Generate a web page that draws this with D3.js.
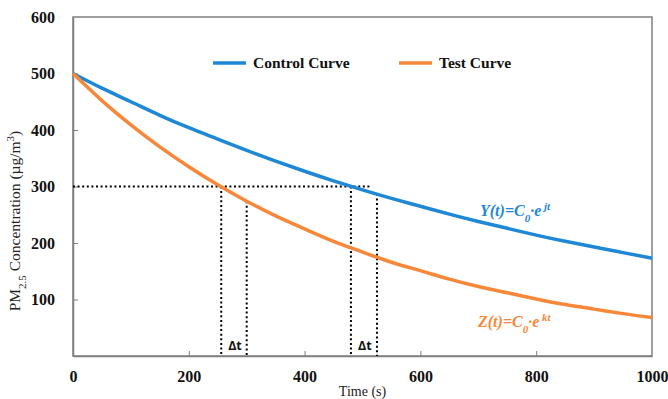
<!DOCTYPE html>
<html>
<head>
<meta charset="utf-8">
<script src="https://cdn.jsdelivr.net/npm/d3@7"></script>
<style>
  html, body { margin: 0; padding: 0; background: #fff; }
  svg { display: block; }
</style>
</head>
<body>
<svg id="chart" width="668" height="399"></svg>
<script>
// Sampled decay curves (time in s, concentration in µg/m³)
const times = [0, 50, 100, 150, 200, 250, 300, 350, 400, 450, 500,
               550, 600, 650, 700, 750, 800, 850, 900, 950, 1000];
const controlValues = [500, 474, 450, 426, 404, 384, 364, 345, 327, 310, 294,
                       279, 265, 251, 238, 226, 214, 203, 193, 183, 173];
const testValues = [500, 452, 409, 370, 335, 303, 274, 248, 225, 203, 184,
                    166, 151, 136, 123, 112, 101, 91, 83, 75, 68];

const xTicks = [0, 200, 400, 600, 800, 1000];
const yTicks = [100, 200, 300, 400, 500, 600];

// Threshold level and the Δt markers (time at which each curve is read)
const threshold = 300;
const thresholdEnd = 515;
const testMarks = [{ t: 256, v: 300 }, { t: 300, v: 274 }];
const controlMarks = [{ t: 480, v: 300 }, { t: 525, v: 287 }];

const svg = d3.select("#chart");
const margin = { left: 73, right: 16, top: 17, bottom: 43 };
const W = 668, H = 399;

const x = d3.scaleLinear().domain([0, 1000]).range([margin.left, W - margin.right]);
const y = d3.scaleLinear().domain([0, 600]).range([H - margin.bottom, margin.top]);

const blue = "#1f88d6";
const orange = "#f7883a";
const axisGray = "#7f7f7f";
const serif = "'Liberation Serif', 'Times New Roman', serif";

// Frame
svg.append("rect")
  .attr("x", x(0)).attr("y", y(600))
  .attr("width", x(1000) - x(0)).attr("height", y(0) - y(600))
  .attr("fill", "none").attr("stroke", axisGray).attr("stroke-width", 1.5);

// Axes with inward ticks
const xAxis = svg.append("g")
  .attr("transform", `translate(0,${y(0)})`)
  .call(d3.axisBottom(x).tickValues(xTicks).tickFormat(d3.format("d"))
    .tickSizeInner(-5).tickSizeOuter(0).tickPadding(15));
const yAxis = svg.append("g")
  .attr("transform", `translate(${x(0)},0)`)
  .call(d3.axisLeft(y).tickValues(yTicks).tickFormat(d3.format("d"))
    .tickSizeInner(-5).tickSizeOuter(0).tickPadding(18));

[xAxis, yAxis].forEach(g => {
  g.select(".domain").attr("stroke", axisGray).attr("stroke-width", 1.5);
  g.selectAll(".tick line").attr("stroke", axisGray).attr("stroke-width", 1);
  g.selectAll(".tick text")
    .attr("font-family", serif)
    .attr("font-weight", "bold")
    .attr("font-size", 16)
    .attr("fill", "#111");
});
// ticks at the frame corners are covered by the frame itself
xAxis.selectAll(".tick").filter(d => d === 0 || d === 1000).select("line").remove();
yAxis.selectAll(".tick").filter(d => d === 600).select("line").remove();

// Axis titles
svg.append("text")
  .attr("x", (x(0) + x(1000)) / 2).attr("y", 396)
  .attr("text-anchor", "middle")
  .attr("font-family", serif)
  .attr("font-size", 14).attr("fill", "#222")
  .text("Time (s)");

const yTitle = svg.append("text")
  .attr("transform", `translate(20,${221}) rotate(-90)`)
  .attr("text-anchor", "middle")
  .attr("font-family", serif)
  .attr("font-size", 15.5).attr("fill", "#222");
yTitle.append("tspan").text("PM");
yTitle.append("tspan").attr("baseline-shift", "sub").attr("font-size", 11).text("2.5");
yTitle.append("tspan").text(" Concentration (µg/m");
yTitle.append("tspan").attr("baseline-shift", "super").attr("font-size", 11).text("3");
yTitle.append("tspan").text(")");

// Dotted guide lines
const dotted = svg.append("g")
  .attr("stroke", "#000").attr("stroke-width", 2).attr("stroke-dasharray", "2,2.6").attr("fill", "none");
dotted.append("line")
  .attr("x1", x(0)).attr("x2", x(thresholdEnd))
  .attr("y1", y(threshold)).attr("y2", y(threshold));
testMarks.concat(controlMarks).forEach(m => {
  dotted.append("line")
    .attr("x1", x(m.t)).attr("x2", x(m.t))
    .attr("y1", y(m.v)).attr("y2", y(0));
});

// Δt labels
[[testMarks[0].t, testMarks[1].t], [controlMarks[0].t, controlMarks[1].t]].forEach(([a, b]) => {
  svg.append("text")
    .attr("x", (x(a) + x(b)) / 2 + 1).attr("y", y(0) - 6)
    .attr("text-anchor", "middle")
    .attr("font-family", "'Open Sans', 'Liberation Sans', sans-serif")
    .attr("font-weight", "bold").attr("font-size", 12.5).attr("fill", "#111")
    .text("Δt");
});

// Curves
const line = d3.line().x(d => x(d[0])).y(d => y(d[1])).curve(d3.curveNatural);
svg.append("path")
  .datum(times.map((t, i) => [t, controlValues[i]]))
  .attr("d", line).attr("fill", "none").attr("stroke", blue).attr("stroke-width", 3.5);
svg.append("path")
  .datum(times.map((t, i) => [t, testValues[i]]))
  .attr("d", line).attr("fill", "none").attr("stroke", orange).attr("stroke-width", 3.5);

// Legend
const legend = [
  { label: "Control Curve", color: blue, x: 213 },
  { label: "Test Curve", color: orange, x: 399 }
];
legend.forEach(l => {
  svg.append("line")
    .attr("x1", l.x).attr("x2", l.x + 33)
    .attr("y1", 63).attr("y2", 63)
    .attr("stroke", l.color).attr("stroke-width", 3.5);
  svg.append("text")
    .attr("x", l.x + 40).attr("y", 68)
    .attr("font-family", serif)
    .attr("font-weight", "bold").attr("font-size", 15.5).attr("fill", "#111")
    .text(l.label);
});

// Equation labels
function equation(px, py, color, fname, exp) {
  const t = svg.append("text")
    .attr("x", px).attr("y", py)
    .attr("font-family", serif)
    .attr("font-weight", "bold").attr("font-style", "italic")
    .attr("font-size", 16).attr("fill", color);
  t.append("tspan").text(fname + "(t)=C");
  t.append("tspan").attr("baseline-shift", "sub").attr("font-size", 11).text("0");
  t.append("tspan").text("·e");
  t.append("tspan").attr("baseline-shift", "super").attr("font-size", 11).text(" " + exp);
}
equation(480, 216, blue, "Y", "jt");
equation(478, 327, orange, "Z", "kt");
</script>
</body>
</html>
